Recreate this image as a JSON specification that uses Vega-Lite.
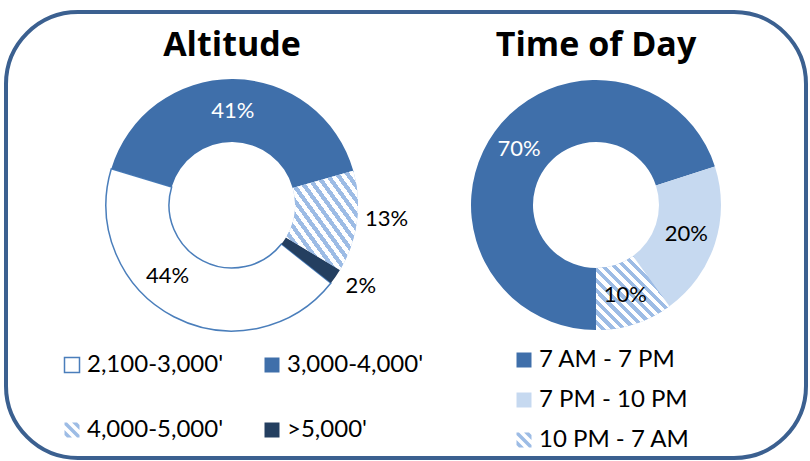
{
  "$schema": "https://vega.github.io/schema/vega-lite/v6.json",
  "width": 810,
  "height": 461,
  "autosize": {"type": "fit", "contains": "padding"},
  "padding": {"left": 6, "top": 12, "right": 4, "bottom": 3},
  "background": "white",
  "config": {
    "font": "Lato",
    "view": {"stroke": "#3B6090", "strokeWidth": 4, "cornerRadius": 72},
    "legend": {
      "orient": "none",
      "title": null,
      "padding": 0,
      "labelFont": "Lato",
      "labelFontSize": 24,
      "labelColor": "#000000",
      "labelOffset": 3,
      "symbolType": "square",
      "symbolSize": 225,
      "symbolStrokeWidth": 1.5,
      "labelLimit": 300
    }
  },
  "datasets": {
    "altitude": [
      {"chart": "Altitude", "band": "2,100-3,000'", "share": 0.44, "rank": 1},
      {"chart": "Altitude", "band": "3,000-4,000'", "share": 0.41, "rank": 2},
      {"chart": "Altitude", "band": "4,000-5,000'", "share": 0.13, "rank": 3},
      {"chart": "Altitude", "band": ">5,000'", "share": 0.02, "rank": 4}
    ],
    "timeofday": [
      {"chart": "Time of Day", "period": "7 AM - 7 PM", "share": 0.70, "rank": 1},
      {"chart": "Time of Day", "period": "7 PM - 10 PM", "share": 0.20, "rank": 2},
      {"chart": "Time of Day", "period": "10 PM - 7 AM", "share": 0.10, "rank": 3}
    ],
    "titles": [
      {"chart": "Altitude"},
      {"chart": "Time of Day"}
    ]
  },
  "resolve": {
    "scale": {"fill": "independent", "stroke": "independent", "theta": "independent", "fillOpacity": "independent"},
    "legend": {"fill": "independent", "stroke": "independent"}
  },
  "layer": [
    {
      "data": {"name": "altitude"},
      "encoding": {
        "x": {"field": "chart", "type": "nominal", "axis": null, "scale": {"type": "point", "padding": 0, "domain": ["Altitude", "Time of Day"], "range": [226, 590]}},
        "y": {"datum": "donut", "type": "nominal", "axis": null, "scale": {"type": "point", "padding": 0, "domain": ["title", "donut"], "range": [44, 193]}},
        "theta": {"field": "share", "type": "quantitative", "stack": true, "scale": {"domain": [0, 1], "range": [2.239, 8.522]}},
        "order": {"field": "rank", "type": "quantitative"}
      },
      "layer": [
        {
          "mark": {"type": "arc", "innerRadius": 63, "outerRadius": 126, "strokeWidth": 1.5},
          "encoding": {
            "fill": {
              "field": "band", "type": "nominal",
              "scale": {
                "domain": ["2,100-3,000'", "3,000-4,000'", "4,000-5,000'", ">5,000'"],
                "range": ["#FFFFFF", "#3F6FAA", "#9DBCE5", "#243F60"]
              },
              "legend": {
                "legendX": 54, "legendY": 341, "columns": 2, "direction": "horizontal", "columnPadding": 36, "rowPadding": 41,
                "symbolStrokeColor": "transparent",
                "encode": {"symbols": {"update": {
                  "shape": [
                    {"test": "datum.index === 2", "value": "M-0.67,-1L1,0.67L1,1L0.67,1L-1,-0.67L-1,-1ZM-1,0L0,1L-0.67,1L-1,0.67ZM0,-1L0.67,-1L1,-0.67L1,0Z"},
                    {"value": "square"}
                  ],
                  "stroke": [
                    {"test": "datum.index === 0", "value": "#4A7EBB"},
                    {"value": "transparent"}
                  ]
                }}}
              }
            },
            "stroke": {"condition": {"test": "datum.rank == 1", "value": "#4A7EBB"}, "value": "transparent"}
          }
        },
        {
          "mark": {
            "type": "arc", "innerRadius": 63, "outerRadius": 126,
            "fill": {"gradient": "linear", "x1": 0, "y1": 1, "x2": 1, "y2": 0, "stops": [
              {"offset": 0, "color": "#FFFFFF"}, {"offset": 0.0357, "color": "#FFFFFF"}, {"offset": 0.0357, "color": "#9DBCE5"}, {"offset": 0.0714, "color": "#9DBCE5"},
              {"offset": 0.0714, "color": "#FFFFFF"}, {"offset": 0.1071, "color": "#FFFFFF"}, {"offset": 0.1071, "color": "#9DBCE5"}, {"offset": 0.1429, "color": "#9DBCE5"},
              {"offset": 0.1429, "color": "#FFFFFF"}, {"offset": 0.1786, "color": "#FFFFFF"}, {"offset": 0.1786, "color": "#9DBCE5"}, {"offset": 0.2143, "color": "#9DBCE5"},
              {"offset": 0.2143, "color": "#FFFFFF"}, {"offset": 0.25, "color": "#FFFFFF"}, {"offset": 0.25, "color": "#9DBCE5"}, {"offset": 0.2857, "color": "#9DBCE5"},
              {"offset": 0.2857, "color": "#FFFFFF"}, {"offset": 0.3214, "color": "#FFFFFF"}, {"offset": 0.3214, "color": "#9DBCE5"}, {"offset": 0.3571, "color": "#9DBCE5"},
              {"offset": 0.3571, "color": "#FFFFFF"}, {"offset": 0.3929, "color": "#FFFFFF"}, {"offset": 0.3929, "color": "#9DBCE5"}, {"offset": 0.4286, "color": "#9DBCE5"},
              {"offset": 0.4286, "color": "#FFFFFF"}, {"offset": 0.4643, "color": "#FFFFFF"}, {"offset": 0.4643, "color": "#9DBCE5"}, {"offset": 0.5, "color": "#9DBCE5"},
              {"offset": 0.5, "color": "#FFFFFF"}, {"offset": 0.5357, "color": "#FFFFFF"}, {"offset": 0.5357, "color": "#9DBCE5"}, {"offset": 0.5714, "color": "#9DBCE5"},
              {"offset": 0.5714, "color": "#FFFFFF"}, {"offset": 0.6071, "color": "#FFFFFF"}, {"offset": 0.6071, "color": "#9DBCE5"}, {"offset": 0.6429, "color": "#9DBCE5"},
              {"offset": 0.6429, "color": "#FFFFFF"}, {"offset": 0.6786, "color": "#FFFFFF"}, {"offset": 0.6786, "color": "#9DBCE5"}, {"offset": 0.7143, "color": "#9DBCE5"},
              {"offset": 0.7143, "color": "#FFFFFF"}, {"offset": 0.75, "color": "#FFFFFF"}, {"offset": 0.75, "color": "#9DBCE5"}, {"offset": 0.7857, "color": "#9DBCE5"},
              {"offset": 0.7857, "color": "#FFFFFF"}, {"offset": 0.8214, "color": "#FFFFFF"}, {"offset": 0.8214, "color": "#9DBCE5"}, {"offset": 0.8571, "color": "#9DBCE5"},
              {"offset": 0.8571, "color": "#FFFFFF"}, {"offset": 0.8929, "color": "#FFFFFF"}, {"offset": 0.8929, "color": "#9DBCE5"}, {"offset": 0.9286, "color": "#9DBCE5"},
              {"offset": 0.9286, "color": "#FFFFFF"}, {"offset": 0.9643, "color": "#FFFFFF"}, {"offset": 0.9643, "color": "#9DBCE5"}, {"offset": 1, "color": "#9DBCE5"}
            ]}
          },
          "encoding": {
            "fillOpacity": {"condition": {"test": "datum.rank == 3", "value": 1}, "value": 0}
          }
        },
        {
          "mark": {"type": "text", "radius": 94, "fontSize": 22, "color": "#FFFFFF", "align": "center", "baseline": "middle"},
          "encoding": {
            "text": {"condition": {"test": "datum.rank == 2", "field": "share", "type": "quantitative", "format": ".0%"}, "value": ""}
          }
        },
        {
          "mark": {"type": "text", "radius": 94, "dx": -21, "dy": -12, "fontSize": 22, "color": "#000000", "align": "center", "baseline": "middle"},
          "encoding": {
            "text": {"condition": {"test": "datum.rank == 1", "field": "share", "type": "quantitative", "format": ".0%"}, "value": ""}
          }
        },
        {
          "mark": {"type": "text", "radius": 153, "dy": -6, "dx": 3, "fontSize": 22, "color": "#000000", "align": "center", "baseline": "middle"},
          "encoding": {
            "text": {"condition": {"test": "datum.rank >= 3", "field": "share", "type": "quantitative", "format": ".0%"}, "value": ""}
          }
        }
      ]
    },
    {
      "data": {"name": "timeofday"},
      "encoding": {
        "x": {"field": "chart", "type": "nominal", "axis": null},
        "y": {"datum": "donut", "type": "nominal", "axis": null},
        "theta": {"field": "share", "type": "quantitative", "stack": true, "scale": {"domain": [0, 1], "range": [3.1416, 9.4248]}},
        "order": {"field": "rank", "type": "quantitative"}
      },
      "layer": [
        {
          "mark": {"type": "arc", "innerRadius": 63, "outerRadius": 125},
          "encoding": {
            "fill": {
              "field": "period", "type": "nominal",
              "scale": {
                "domain": ["7 AM - 7 PM", "7 PM - 10 PM", "10 PM - 7 AM"],
                "range": ["#3F6FAA", "#C6D9F0", "#9DBCE5"]
              },
              "legend": {
                "legendX": 506, "legendY": 336, "columns": 1, "rowPadding": 16,
                "symbolStrokeColor": "transparent",
                "encode": {"symbols": {"update": {
                  "shape": [
                    {"test": "datum.index === 2", "value": "M-0.67,-1L1,0.67L1,1L0.67,1L-1,-0.67L-1,-1ZM-1,0L0,1L-0.67,1L-1,0.67ZM0,-1L0.67,-1L1,-0.67L1,0Z"},
                    {"value": "square"}
                  ]
                }}}
              }
            }
          }
        },
        {
          "mark": {
            "type": "arc", "innerRadius": 63, "outerRadius": 125,
            "fill": {"gradient": "linear", "x1": 0, "y1": 1, "x2": 1, "y2": 0, "stops": [
              {"offset": 0, "color": "#FFFFFF"}, {"offset": 0.0357, "color": "#FFFFFF"}, {"offset": 0.0357, "color": "#9DBCE5"}, {"offset": 0.0714, "color": "#9DBCE5"},
              {"offset": 0.0714, "color": "#FFFFFF"}, {"offset": 0.1071, "color": "#FFFFFF"}, {"offset": 0.1071, "color": "#9DBCE5"}, {"offset": 0.1429, "color": "#9DBCE5"},
              {"offset": 0.1429, "color": "#FFFFFF"}, {"offset": 0.1786, "color": "#FFFFFF"}, {"offset": 0.1786, "color": "#9DBCE5"}, {"offset": 0.2143, "color": "#9DBCE5"},
              {"offset": 0.2143, "color": "#FFFFFF"}, {"offset": 0.25, "color": "#FFFFFF"}, {"offset": 0.25, "color": "#9DBCE5"}, {"offset": 0.2857, "color": "#9DBCE5"},
              {"offset": 0.2857, "color": "#FFFFFF"}, {"offset": 0.3214, "color": "#FFFFFF"}, {"offset": 0.3214, "color": "#9DBCE5"}, {"offset": 0.3571, "color": "#9DBCE5"},
              {"offset": 0.3571, "color": "#FFFFFF"}, {"offset": 0.3929, "color": "#FFFFFF"}, {"offset": 0.3929, "color": "#9DBCE5"}, {"offset": 0.4286, "color": "#9DBCE5"},
              {"offset": 0.4286, "color": "#FFFFFF"}, {"offset": 0.4643, "color": "#FFFFFF"}, {"offset": 0.4643, "color": "#9DBCE5"}, {"offset": 0.5, "color": "#9DBCE5"},
              {"offset": 0.5, "color": "#FFFFFF"}, {"offset": 0.5357, "color": "#FFFFFF"}, {"offset": 0.5357, "color": "#9DBCE5"}, {"offset": 0.5714, "color": "#9DBCE5"},
              {"offset": 0.5714, "color": "#FFFFFF"}, {"offset": 0.6071, "color": "#FFFFFF"}, {"offset": 0.6071, "color": "#9DBCE5"}, {"offset": 0.6429, "color": "#9DBCE5"},
              {"offset": 0.6429, "color": "#FFFFFF"}, {"offset": 0.6786, "color": "#FFFFFF"}, {"offset": 0.6786, "color": "#9DBCE5"}, {"offset": 0.7143, "color": "#9DBCE5"},
              {"offset": 0.7143, "color": "#FFFFFF"}, {"offset": 0.75, "color": "#FFFFFF"}, {"offset": 0.75, "color": "#9DBCE5"}, {"offset": 0.7857, "color": "#9DBCE5"},
              {"offset": 0.7857, "color": "#FFFFFF"}, {"offset": 0.8214, "color": "#FFFFFF"}, {"offset": 0.8214, "color": "#9DBCE5"}, {"offset": 0.8571, "color": "#9DBCE5"},
              {"offset": 0.8571, "color": "#FFFFFF"}, {"offset": 0.8929, "color": "#FFFFFF"}, {"offset": 0.8929, "color": "#9DBCE5"}, {"offset": 0.9286, "color": "#9DBCE5"},
              {"offset": 0.9286, "color": "#FFFFFF"}, {"offset": 0.9643, "color": "#FFFFFF"}, {"offset": 0.9643, "color": "#9DBCE5"}, {"offset": 1, "color": "#9DBCE5"}
            ]}
          },
          "encoding": {
            "fillOpacity": {"condition": {"test": "datum.rank == 3", "value": 1}, "value": 0}
          }
        },
        {
          "mark": {"type": "text", "radius": 95, "fontSize": 22, "align": "center", "baseline": "middle"},
          "encoding": {
            "text": {"field": "share", "type": "quantitative", "format": ".0%"},
            "color": {"condition": {"test": "datum.rank == 1", "value": "#FFFFFF"}, "value": "#000000"}
          }
        }
      ]
    },
    {
      "data": {"name": "titles"},
      "mark": {"type": "text", "font": "Open Sans", "fontSize": 34, "fontWeight": "bold", "color": "#000000", "align": "center", "baseline": "alphabetic"},
      "encoding": {
        "x": {"field": "chart", "type": "nominal", "axis": null},
        "y": {"datum": "title", "type": "nominal", "axis": null},
        "text": {"field": "chart", "type": "nominal"}
      }
    }
  ]
}
